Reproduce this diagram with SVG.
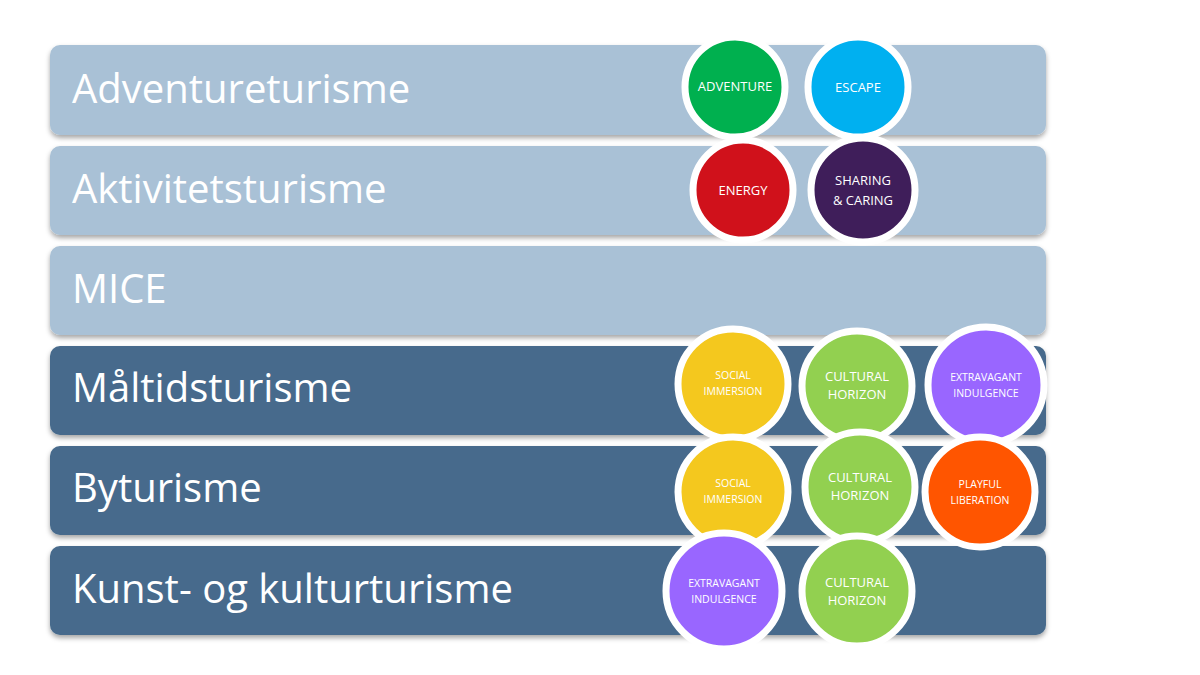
<svg xmlns="http://www.w3.org/2000/svg" width="1200" height="675" viewBox="0 0 1200 675">
<defs>
<style>
.bar{stroke:none}
.l{fill:#a9c1d6}
.d{fill:#476b8c}
.lbl{font-family:"Open Sans","Liberation Sans",sans-serif;font-size:40px;fill:#fff}
.c{stroke:#fff;stroke-width:7}
.ct{font-family:"Open Sans","Liberation Sans",sans-serif;font-size:13px;fill:#fff;text-anchor:middle}
.cs{font-size:10.5px}
</style>
<filter id="sh" x="-5%" y="-20%" width="110%" height="150%"><feDropShadow dx="0" dy="3" stdDeviation="2.5" flood-color="#000" flood-opacity="0.35"/></filter>
</defs>
<rect width="1200" height="675" fill="#fff"/>
<g id="row1"><rect class="bar l" x="50" y="45" width="996" height="90" rx="10" filter="url(#sh)"/><text class="lbl" x="72" y="103">Adventureturisme</text></g>
<g id="row2"><rect class="bar l" x="50" y="146" width="996" height="89" rx="10" filter="url(#sh)"/><text class="lbl" x="72" y="203">Aktivitetsturisme</text></g>
<g id="row3"><rect class="bar l" x="50" y="246" width="996" height="89" rx="10" filter="url(#sh)"/><text class="lbl" x="72" y="303">MICE</text></g>
<g id="row4"><rect class="bar d" x="50" y="346" width="996" height="89" rx="10" filter="url(#sh)"/><text class="lbl" x="72" y="402">Måltidsturisme</text></g>
<g id="row5"><rect class="bar d" x="50" y="446" width="996" height="89" rx="10" filter="url(#sh)"/><text class="lbl" x="72" y="502">Byturisme</text></g>
<g id="row6"><rect class="bar d" x="50" y="546" width="996" height="89" rx="10" filter="url(#sh)"/><text class="lbl" x="72" y="603">Kunst- og kulturturisme</text></g>

<g id="c-adventure"><circle class="c" cx="735" cy="87" r="50" fill="#00b04f"/><text class="ct" x="735" y="91">ADVENTURE</text></g>
<g id="c-escape"><circle class="c" cx="858" cy="87" r="50" fill="#00b0f0"/><text class="ct" x="858" y="92">ESCAPE</text></g>
<g id="c-energy"><circle class="c" cx="743" cy="190" r="50" fill="#d0111b"/><text class="ct" x="743" y="195">ENERGY</text></g>
<g id="c-sharing"><circle class="c" cx="863" cy="190" r="52" fill="#3f1e5a"/><text class="ct" x="863" y="185">SHARING</text><text class="ct" x="863" y="205">&amp; CARING</text></g>
<g id="c-social1"><circle class="c" cx="733" cy="384" r="55" fill="#f4c81e"/><text class="ct cs" x="733" y="379">SOCIAL</text><text class="ct cs" x="733" y="395">IMMERSION</text></g>
<g id="c-cultural1"><circle class="c" cx="857" cy="386" r="55" fill="#92d050"/><text class="ct" x="857" y="381">CULTURAL</text><text class="ct" x="857" y="399">HORIZON</text></g>
<g id="c-extrav1"><circle class="c" cx="986" cy="385" r="58" fill="#9966ff"/><text class="ct cs" x="986" y="381">EXTRAVAGANT</text><text class="ct cs" x="986" y="397">INDULGENCE</text></g>
<g id="c-social2"><circle class="c" cx="733" cy="492" r="55" fill="#f4c81e"/><text class="ct cs" x="733" y="487">SOCIAL</text><text class="ct cs" x="733" y="503">IMMERSION</text></g>
<g id="c-cultural2"><circle class="c" cx="860" cy="487" r="55" fill="#92d050"/><text class="ct" x="860" y="482">CULTURAL</text><text class="ct" x="860" y="500">HORIZON</text></g>
<g id="c-playful"><circle class="c" cx="980" cy="492" r="55" fill="#ff5500"/><text class="ct cs" x="980" y="488">PLAYFUL</text><text class="ct cs" x="980" y="504">LIBERATION</text></g>
<g id="c-extrav2"><circle class="c" cx="724" cy="591" r="58" fill="#9966ff"/><text class="ct cs" x="724" y="587">EXTRAVAGANT</text><text class="ct cs" x="724" y="603">INDULGENCE</text></g>
<g id="c-cultural3"><circle class="c" cx="857" cy="591" r="55" fill="#92d050"/><text class="ct" x="857" y="587">CULTURAL</text><text class="ct" x="857" y="605">HORIZON</text></g>
<g id="connectors"></g>
</svg>
